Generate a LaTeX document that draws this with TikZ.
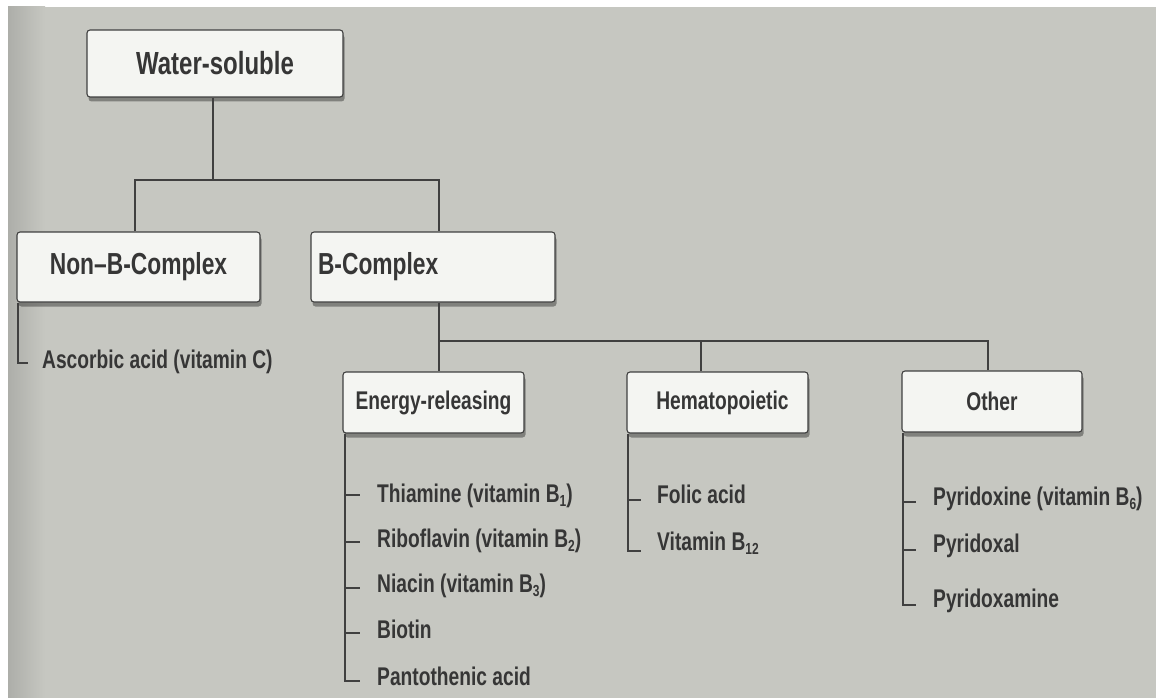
\documentclass[tikz,border=0pt]{standalone}
\usepackage{fontspec}
\setmainfont{Liberation Sans}[FakeStretch=0.75]
\usetikzlibrary{shadows}
\definecolor{bggray}{HTML}{C6C7C1}
\definecolor{bgdark}{HTML}{ADAEA9}
\definecolor{boxfill}{HTML}{F4F5F2}
\definecolor{ink}{HTML}{363636}
\definecolor{linecol}{HTML}{404040}
\newcommand{\lowsub}[1]{\raisebox{-0.35ex}{\fontsize{16}{16}\selectfont #1}}
\tikzset{
  catbox/.style={draw=linecol, line width=1.1pt, fill=boxfill, rounded corners=3pt,
    inner sep=0pt, text=ink, font=\bfseries\fontsize{30.4}{32}\selectfont,
    drop shadow={shadow xshift=1.5pt, shadow yshift=-4.5pt, fill=black, opacity=0.35}},
  subbox/.style={catbox, font=\bfseries\fontsize{25.6}{27}\selectfont},
  item/.style={anchor=base west, inner sep=0pt, text=ink, font=\bfseries\fontsize{25.6}{27}\selectfont},
  conn/.style={draw=linecol, line width=2pt},
}
\begin{document}
\begin{tikzpicture}[x=1pt, y=-1pt]
\useasboundingbox (0,0) rectangle (1156,698);
\fill[white] (0,0) rectangle (1156,698);
\fill[bggray] (8,7) rectangle (1156,698);
\shade[left color=bgdark, right color=bggray] (8,7) rectangle (45,698);

% top-level boxes
\node[catbox, minimum width=256pt, minimum height=67pt, font=\bfseries\fontsize{32}{34}\selectfont] (ws) at (215,63.5) {Water-soluble};
\node[catbox, minimum width=243pt, minimum height=70pt] (nonb) at (138.5,267) {Non--B-Complex};
\node[catbox, minimum width=244pt, minimum height=70pt, text width=230pt, align=left] (bc) at (433,267) {B-Complex};

% sub boxes
\node[subbox, minimum width=181pt, minimum height=61pt] (en) at (433.5,402.5) {Energy-releasing};
\node[subbox, minimum width=181pt, minimum height=61pt] (hem) at (717.5,402.5) {\hspace{10pt}Hematopoietic};
\node[subbox, minimum width=180pt, minimum height=61pt] (oth) at (992,401.5) {Other};

% first level connectors
\coordinate (a0) at (213,180);
\coordinate (a1) at (135,180);
\coordinate (a2) at (439,180);
\draw[conn] (a0 |- ws.south) -- (a0);
\draw[conn] (a1 |- nonb.north) -- (a1) -- (a2) -- (a2 |- bc.north);

% second level connectors
\coordinate (b0) at (439,341);
\coordinate (b1) at (701,341);
\coordinate (b2) at (988,341);
\draw[conn] (b0 |- bc.south) -- (b0) -- (b2) -- (b2 |- oth.north);
\draw[conn] (b0) -- (b0 |- en.north);
\draw[conn] (b1) -- (b1 |- hem.north);

% Non-B-Complex list
\coordinate (nl) at (18,363);
\draw[conn] (nl |- nonb.south) -- (nl) -- ++(10,0);
\node[item] (asc) at (42,368) {Ascorbic acid (vitamin C)};

% Energy-releasing list
\coordinate (e1) at (345,495);
\coordinate (e2) at (345,542);
\coordinate (e3) at (345,588);
\coordinate (e4) at (345,633);
\coordinate (e5) at (345,681);
\draw[conn] (e5 |- en.south) -- (e5) -- ++(15,0);
\foreach \c in {e1,e2,e3,e4} \draw[conn] (\c) -- ++(15,0);
\node[item] (thi) at (377,502) {Thiamine (vitamin B\lowsub{1})};
\node[item] (rib) at (377,547) {Riboflavin (vitamin B\lowsub{2})};
\node[item] (nia) at (377,592) {Niacin (vitamin B\lowsub{3})};
\node[item] (bio) at (377,638) {Biotin};
\node[item] (pan) at (377,685) {Pantothenic acid};

% Hematopoietic list
\coordinate (h1) at (628,500);
\coordinate (h2) at (628,551);
\draw[conn] (h2 |- hem.south) -- (h2) -- ++(13,0);
\draw[conn] (h1) -- ++(13,0);
\node[item] (fol) at (657,503) {Folic acid};
\node[item] (b12) at (657,550) {Vitamin B\lowsub{12}};

% Other list
\coordinate (o1) at (903,502);
\coordinate (o2) at (903,550);
\coordinate (o3) at (903,605);
\draw[conn] (o3 |- oth.south) -- (o3) -- ++(13,0);
\draw[conn] (o1) -- ++(13,0);
\draw[conn] (o2) -- ++(13,0);
\node[item] (pyr) at (933,505) {Pyridoxine (vitamin B\lowsub{6})};
\node[item] (pal) at (933,552) {Pyridoxal};
\node[item] (pam) at (933,607) {Pyridoxamine};
\end{tikzpicture}
\end{document}
